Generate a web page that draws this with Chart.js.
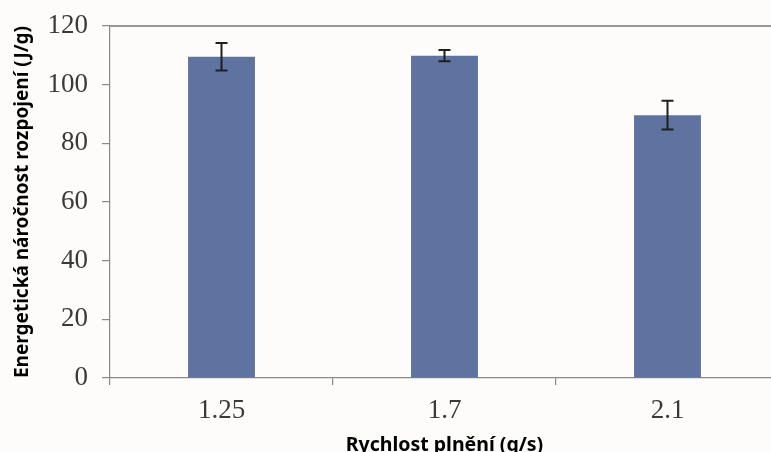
<!DOCTYPE html>
<html>
<head>
<meta charset="utf-8">
<script src="https://cdn.jsdelivr.net/npm/chart.js@4/dist/chart.umd.min.js"></script>
<style>
  html, body { margin: 0; padding: 0; background: #fdfcfa; overflow: hidden; }
  #wrap { width: 790px; height: 460px; }
</style>
</head>
<body>
<div id="wrap"><canvas id="c" width="790" height="460"></canvas></div>
<script>
// Filling rate categories and measured specific energy with standard deviations
const categories = ['1.25', '1.7', '2.1'];
const energyMeans = [109.5, 109.9, 89.6];
const energyErrors = [4.7, 1.9, 4.9];
const yTicks = [0, 20, 40, 60, 80, 100, 120];

const axisColor = '#8c8985';
const tickTextColor = '#3a3a3a';

// Error bars and the top frame line, positioned through the chart scales
const errorBarPlugin = {
  id: 'errorBars',
  afterDatasetsDraw(chart) {
    const ctx = chart.ctx;
    const meta = chart.getDatasetMeta(0);
    const yScale = chart.scales.y;
    ctx.save();
    ctx.strokeStyle = '#1e1e1e';
    ctx.lineWidth = 2;
    meta.data.forEach((bar, i) => {
      const x = bar.x;
      const yTop = yScale.getPixelForValue(energyMeans[i] + energyErrors[i]);
      const yBot = yScale.getPixelForValue(energyMeans[i] - energyErrors[i]);
      const cap = 6;
      ctx.beginPath();
      ctx.moveTo(x, yTop); ctx.lineTo(x, yBot);
      ctx.moveTo(x - cap, yTop); ctx.lineTo(x + cap, yTop);
      ctx.moveTo(x - cap, yBot); ctx.lineTo(x + cap, yBot);
      ctx.stroke();
    });
    const area = chart.chartArea;
    ctx.strokeStyle = '#7a7672';
    ctx.lineWidth = 1.6;
    ctx.beginPath();
    ctx.moveTo(area.left, area.top);
    ctx.lineTo(area.right, area.top);
    ctx.stroke();
    ctx.restore();
  }
};

new Chart(document.getElementById('c'), {
  type: 'bar',
  data: {
    labels: categories,
    datasets: [{
      data: energyMeans,
      backgroundColor: '#5f73a1',
      borderWidth: 0,
      barPercentage: 0.3,
      categoryPercentage: 1.0
    }]
  },
  options: {
    responsive: false,
    animation: false,
    layout: { padding: { left: 0, right: 11, top: 26, bottom: 0 } },
    plugins: { legend: { display: false }, tooltip: { enabled: false } },
    scales: {
      x: {
        grid: {
          offset: true,
          drawOnChartArea: false,
          drawTicks: true,
          tickLength: 7,
          color: axisColor,
          lineWidth: 1.2
        },
        border: { color: axisColor, width: 1.2 },
        ticks: {
          color: tickTextColor,
          padding: 10,
          font: { family: '"Liberation Serif", "Times New Roman", serif', size: 27 }
        },
        title: {
          display: true,
          text: 'Rychlost plnění (g/s)',
          color: '#000000',
          padding: { top: 0, bottom: 3 },
          font: { family: '"Noto Sans", "Open Sans", sans-serif', size: 19.5, weight: 'bold' }
        },
        afterFit(scale) {
          scale.height = 82;
          scale.paddingLeft = 0;
          scale.paddingRight = 0;
        }
      },
      y: {
        min: 0,
        max: 120,
        afterBuildTicks(scale) { scale.ticks = yTicks.map(v => ({ value: v })); },
        grid: {
          drawOnChartArea: false,
          drawTicks: true,
          tickLength: 8,
          color: axisColor,
          lineWidth: 1.2
        },
        border: { color: axisColor, width: 1.2 },
        ticks: {
          color: tickTextColor,
          padding: 14,
          font: { family: '"Liberation Serif", "Times New Roman", serif', size: 27 }
        },
        title: {
          display: true,
          text: 'Energetická náročnost rozpojení (J/g)',
          color: '#000000',
          padding: { top: 11, bottom: 0 },
          font: { family: '"Noto Sans", "Open Sans", sans-serif', size: 19, weight: 'bold' }
        },
        afterFit(scale) {
          scale.width = 110;
          scale.paddingTop = 0;
          scale.paddingBottom = 0;
        }
      }
    }
  },
  plugins: [errorBarPlugin]
});
</script>
</body>
</html>
